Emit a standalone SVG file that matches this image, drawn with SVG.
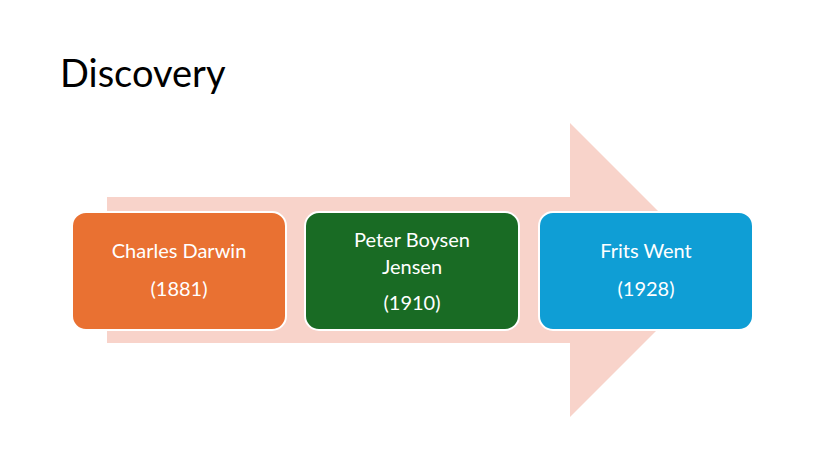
<svg xmlns="http://www.w3.org/2000/svg" width="825" height="463" viewBox="0 0 825 463">
<style>
text{font-family:"Lato","Liberation Sans",sans-serif;fill:#fff;font-size:20px;text-anchor:middle}
.box{stroke:#fff;stroke-width:2}
</style>
<rect width="825" height="463" fill="#fff"/>
<text x="60" y="87" style="fill:#000;font-size:38px;text-anchor:start">Discovery</text>
<g id="arrow"><polygon points="107,197 570,197 570,123 717,270 570,417 570,343 107,343" fill="#f8d3ca"/></g>
<g id="connectors"></g>
<g id="n1"><rect class="box" x="72" y="212" width="214" height="118" rx="14" fill="#e97132"/>
<text x="179" y="258">Charles Darwin</text><text x="179" y="296">(1881)</text></g>
<g id="n2"><rect class="box" x="305" y="212" width="214" height="118" rx="14" fill="#196b24"/>
<text x="412" y="247">Peter Boysen</text><text x="412" y="274">Jensen</text><text x="412" y="310">(1910)</text></g>
<g id="n3"><rect class="box" x="539" y="212" width="214" height="118" rx="14" fill="#0f9ed5"/>
<text x="646" y="258">Frits Went</text><text x="646" y="296">(1928)</text></g>
</svg>
